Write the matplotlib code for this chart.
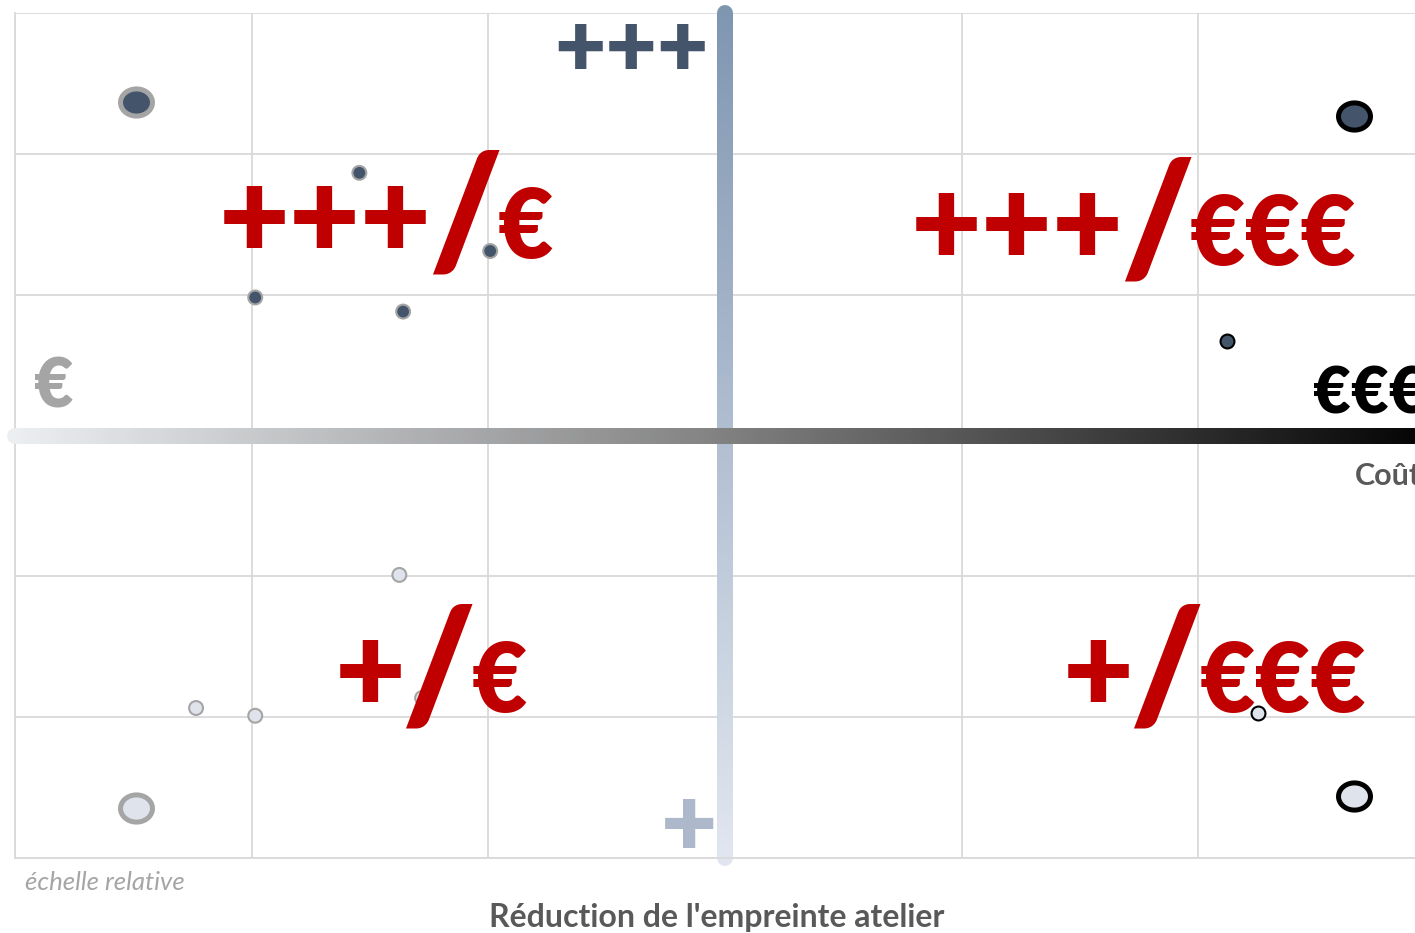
import matplotlib.pyplot as plt
import numpy as np
from matplotlib.collections import LineCollection
from matplotlib.colors import LinearSegmentedColormap
from matplotlib.path import Path

plt.rcParams['font.family'] = ['Lato', 'DejaVu Sans']

# positions sur l'échelle relative (0..6 en x comme en y)
# +++ / €  (fort impact, peu coûteux)
fort_eco_x = [0.51, 1.455, 2.008, 1.015, 1.64]
fort_eco_y = [5.37, 4.865, 4.31, 3.98, 3.88]
fort_eco_taille = [530, 100, 100, 100, 100]

# +++ / €€€
fort_cher_x = [5.657, 5.12]
fort_cher_y = [5.27, 3.67]
fort_cher_taille = [530, 100]

# + / €
faible_eco_x = [0.51, 0.765, 1.015, 1.624, 1.72]
faible_eco_y = [0.355, 1.065, 1.01, 2.01, 1.136]
faible_eco_taille = [530, 100, 100, 100, 100]

# + / €€€
faible_cher_x = [5.657, 5.25]
faible_cher_y = [0.44, 1.03]
faible_cher_taille = [530, 100]

quadrants = ["+++/€", "+++/€€€", "+/€", "+/€€€"]

FONCE = '#44546a'
CLAIR = '#dfe3ec'
ROUGE = '#c00000'

fig = plt.figure(figsize=(14.15, 9.33), dpi=100)
ax = fig.add_axes([15 / 1415, 75 / 933, 1420 / 1415, 845 / 933])
ax.set_xlim(0, 6)
ax.set_ylim(0, 6)
ax.set_xticks(range(7))
ax.set_yticks(range(7))
ax.tick_params(length=0, labelbottom=False, labelleft=False)
ax.grid(True, color='#d9d9d9', linewidth=1.3, zorder=0)
ax.set_axisbelow(True)
for s in ['top', 'right']:
    ax.spines[s].set_visible(False)
for s in ['left', 'bottom']:
    ax.spines[s].set_color('#d9d9d9')
    ax.spines[s].set_linewidth(1.3)

# marqueur légèrement elliptique pour les grosses bulles
t = np.linspace(0, 2 * np.pi, 60)
ellipse = Path(np.column_stack([np.cos(t), 0.85 * np.sin(t)]), closed=True)


def bulles(xs, ys, tailles, fond, bord, z):
    xs, ys, tailles = np.array(xs), np.array(ys), np.array(tailles)
    gros = tailles > 300
    ax.scatter(xs[gros], ys[gros], s=tailles[gros], marker=ellipse, facecolor=fond,
               edgecolor=bord, linewidth=3.6, zorder=z)
    ax.scatter(xs[~gros], ys[~gros], s=tailles[~gros], marker='o', facecolor=fond,
               edgecolor=bord, linewidth=1.5, zorder=z)


def ligne_degrade(xs, ys, couleurs, z):
    pts = np.column_stack([xs, ys])
    segs = np.stack([pts[:-1], pts[1:]], axis=1)
    cmap = LinearSegmentedColormap.from_list('deg', couleurs)
    lc = LineCollection(segs, colors=cmap(np.linspace(0, 1, len(segs))), linewidths=11.5,
                        capstyle='round', clip_on=False, zorder=z)
    ax.add_collection(lc)


# axes en dégradé
n = 300
ligne_degrade(np.full(n, 3.0), np.linspace(6.0, 0.0, n), ['#7f96b1', '#e0e5ef'], 2)
ligne_degrade(np.linspace(0.0, 6.1, n), np.full(n, 3.0), ['#eceef2', '#808080', '#000000'], 3)

bulles(fort_eco_x, fort_eco_y, fort_eco_taille, FONCE, '#a5a5a5', 4)
bulles(fort_cher_x, fort_cher_y, fort_cher_taille, FONCE, 'black', 4)
bulles(faible_eco_x, faible_eco_y, faible_eco_taille, CLAIR, '#a5a5a5', 4)
bulles(faible_cher_x, faible_cher_y, faible_cher_taille, CLAIR, 'black', 6)


def etiquette(texte, xs, yb):
    gauche, droite = texte.split('/')
    ax.text(xs - 0.14, yb, gauche, ha='right', va='baseline', color=ROUGE,
            fontsize=88, fontweight='heavy', zorder=5)
    ax.text(xs, yb - 0.06, '/', ha='center', va='baseline', color=ROUGE,
            fontsize=112, fontweight='heavy', zorder=5)
    ax.text(xs + 0.14, yb, droite, ha='left', va='baseline', color=ROUGE,
            fontsize=69, fontweight='heavy', zorder=5)


etiquette(quadrants[0], 1.901, 4.26)
etiquette(quadrants[1], 4.825, 4.21)
etiquette(quadrants[2], 1.79, 1.037)
etiquette(quadrants[3], 4.865, 1.037)

# repères des axes
ax.text(2.607, 5.74, '+++', ha='center', va='center', color=FONCE,
        fontsize=64, fontweight='heavy', zorder=5)
ax.text(2.848, 0.215, '+', ha='center', va='center', color='#adb9ca',
        fontsize=70, fontweight='heavy', zorder=5)
ax.text(0.165, 3.34, '€', ha='center', va='center', color='#a5a5a5',
        fontsize=49, fontweight='heavy', zorder=5)
ax.text(5.484, 3.29, '€€€', ha='left', va='center', color='black',
        fontsize=47, fontweight='heavy', zorder=5, clip_on=False)

fig.text(1355 / 1415, 1 - 476 / 933, 'Coût', ha='left', va='center',
         color='#595959', fontsize=22, fontweight='bold')
fig.text(717 / 1415, 1 - 917 / 933, "Réduction de l'empreinte atelier", ha='center',
         va='center', color='#595959', fontsize=23, fontweight='bold')
fig.text(25 / 1415, 1 - 882 / 933, 'échelle relative', ha='left', va='center',
         color='#a5a5a5', fontsize=18.5, fontstyle='italic')

fig.savefig('out.png', dpi=100)
